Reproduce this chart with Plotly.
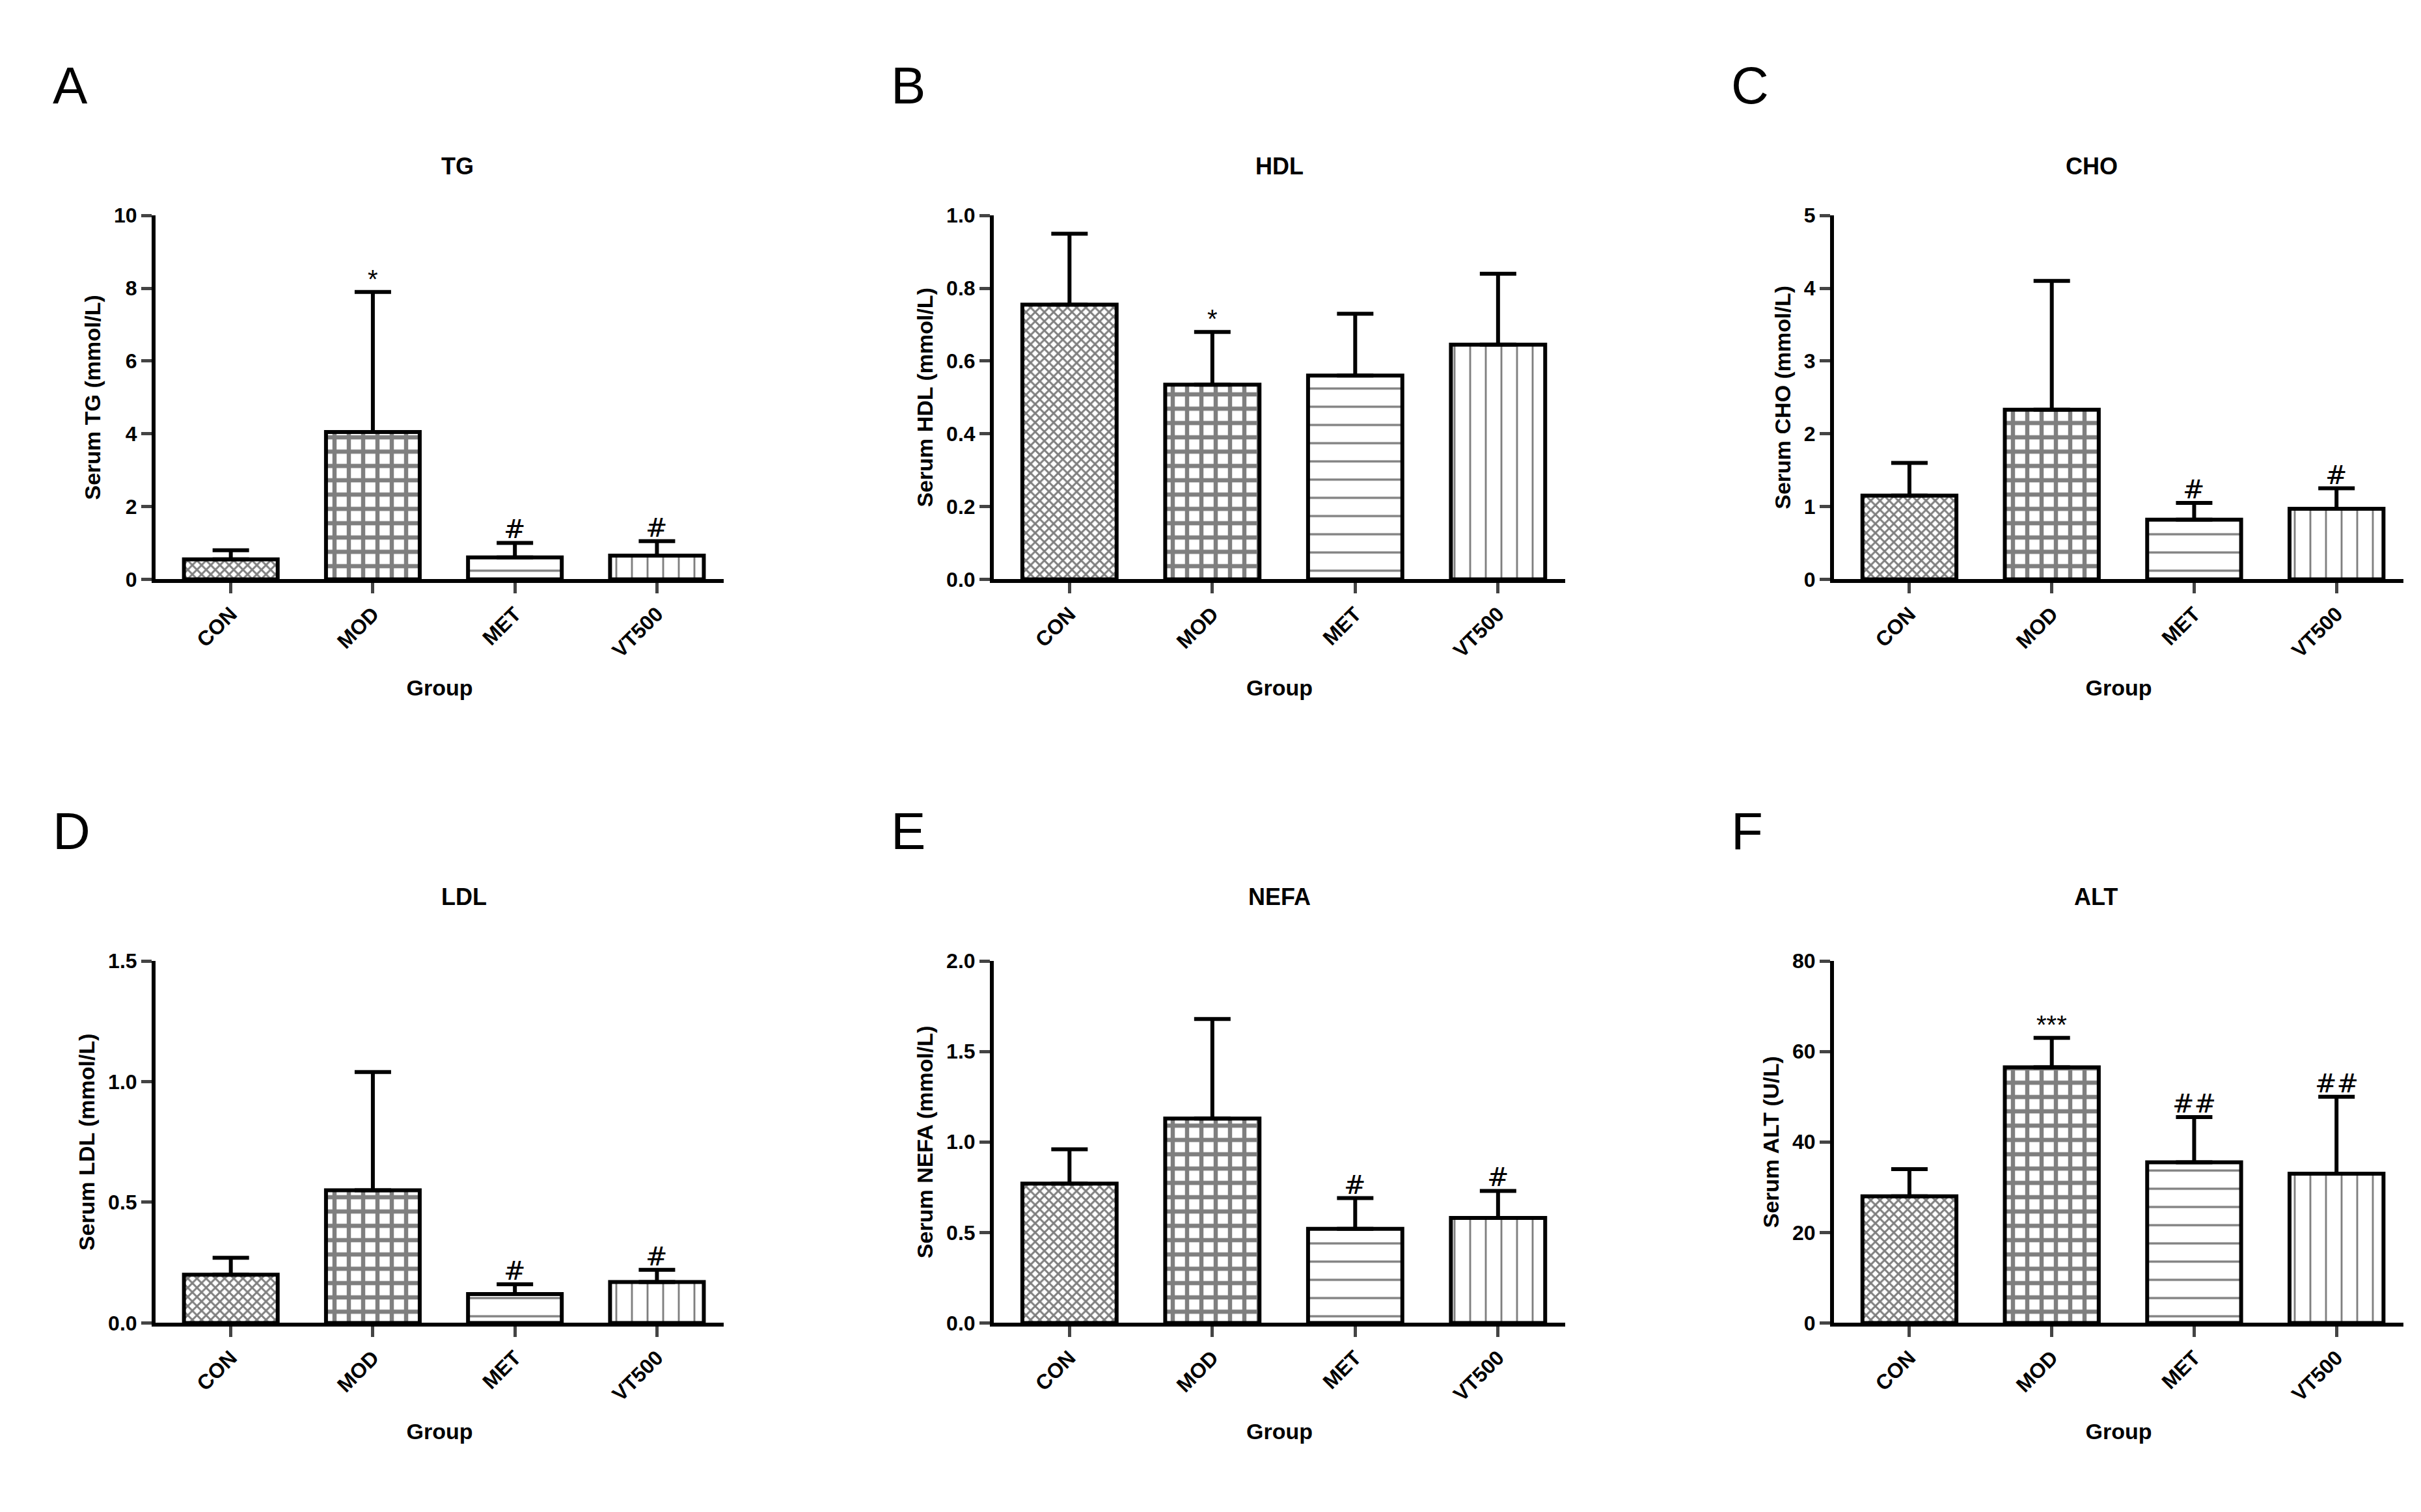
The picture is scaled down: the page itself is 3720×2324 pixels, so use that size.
import plotly.graph_objects as go

groups = ["CON", "MOD", "MET", "VT500"]
titles = ["TG", "HDL", "CHO", "LDL", "NEFA", "ALT"]
letters = ["A", "B", "C", "D", "E", "F"]
ylabels = ["Serum TG (mmol/L)", "Serum HDL (mmol/L)", "Serum CHO (mmol/L)",
           "Serum LDL (mmol/L)", "Serum NEFA (mmol/L)", "Serum ALT (U/L)"]
means = [[0.55, 4.05, 0.6, 0.65],
         [0.755, 0.535, 0.56, 0.645],
         [1.15, 2.33, 0.82, 0.97],
         [0.2, 0.55, 0.12, 0.17],
         [0.77, 1.13, 0.52, 0.58],
         [28, 56.5, 35.5, 33]]
sds = [[0.25, 3.85, 0.4, 0.4],
       [0.195, 0.145, 0.17, 0.195],
       [0.45, 1.77, 0.23, 0.28],
       [0.07, 0.49, 0.04, 0.05],
       [0.19, 0.55, 0.17, 0.15],
       [6, 6.5, 10, 17]]
marks = [["", "*", "#", "#"], ["", "*", "", ""], ["", "", "#", "#"],
         ["", "", "#", "#"], ["", "", "#", "#"], ["", "***", "##", "##"]]
yranges = [(0, 10, 2, ""), (0, 1.0, 0.2, ".1f"), (0, 5, 1, ""),
           (0, 1.5, 0.5, ".1f"), (0, 2.0, 0.5, ".1f"), (0, 80, 20, "")]
pattern = dict(shape=["x", "+", "-", "|"], size=[10, 22, 28, 24],
               solidity=[0.5, 0.5, 0.12, 0.12], fgcolor="black", bgcolor="white")

W, H = 3720, 2324
xd = [(231, 1104), (1519, 2397), (2810, 3685)]
yd = [(310, 878), (1474, 2039)]

fig = go.Figure()
F = "Liberation Sans, Arial, sans-serif"
for i in range(6):
    r, c = divmod(i, 3)
    n = str(i + 1) if i else ""
    x0, x1 = xd[c]; y0, y1 = yd[r]
    fig.add_trace(go.Bar(
        x=groups, y=means[i], xaxis="x" + n, yaxis="y" + n, width=0.66,
        marker=dict(color="white", line=dict(color="black", width=6), pattern=pattern),
        error_y=dict(type="data", array=sds[i], arrayminus=[0] * 4, symmetric=False,
                     color="black", thickness=6, width=28),
        showlegend=False))
    lo, hi, dt, fmt = yranges[i]
    fig.update_layout(**{
        "xaxis" + n: dict(domain=[x0 / W, x1 / W], anchor="y" + n, range=[-0.53, 3.47],
                          showline=True, linewidth=6, linecolor="black", ticks="outside",
                          ticklen=16, tickwidth=5, tickangle=-45,
                          tickfont=dict(family=F, size=32, color="black", weight="bold"),
                          title=dict(text="<b>Group</b>", font=dict(family=F, size=34, color="black"),
                                     standoff=30)),
        "yaxis" + n: dict(domain=[1 - y1 / H, 1 - y0 / H], anchor="x" + n, range=[lo, hi],
                          dtick=dt, tickformat=fmt, showline=True, linewidth=6, linecolor="black",
                          ticks="outside", ticklen=16, tickwidth=5, showgrid=False, zeroline=False,
                          tickfont=dict(family=F, size=32, color="black", weight="bold"),
                          title=dict(text="<b>" + ylabels[i] + "</b>",
                                     font=dict(family=F, size=34, color="black"), standoff=12))})
    fig.add_annotation(text="<b>" + titles[i] + "</b>", xref="paper", yref="paper",
                       x=(x0 + x1) / 2 / W, y=1 - (y0 - 100) / H, showarrow=False,
                       font=dict(family=F, size=36, color="black"))
    fig.add_annotation(text=letters[i], xref="paper", yref="paper",
                       x=(x0 - 160) / W, y=1 - (y0 - 250) / H, showarrow=False, xanchor="left",
                       yanchor="top", font=dict(family=F, size=80, color="black"))
    for j, m in enumerate(marks[i]):
        if m:
            fig.add_annotation(text=m, x=groups[j], y=means[i][j] + sds[i][j],
                               xref="x" + n, yref="y" + n, showarrow=False, yanchor="bottom",
                               yshift=-4, font=dict(family="DejaVu Serif" if "#" in m else F,
                                                   size=40, color="black"))

fig.update_layout(width=W, height=H, plot_bgcolor="white", paper_bgcolor="white",
                  margin=dict(l=0, r=0, t=0, b=0), bargap=0.3)
fig.write_html("out.html")
